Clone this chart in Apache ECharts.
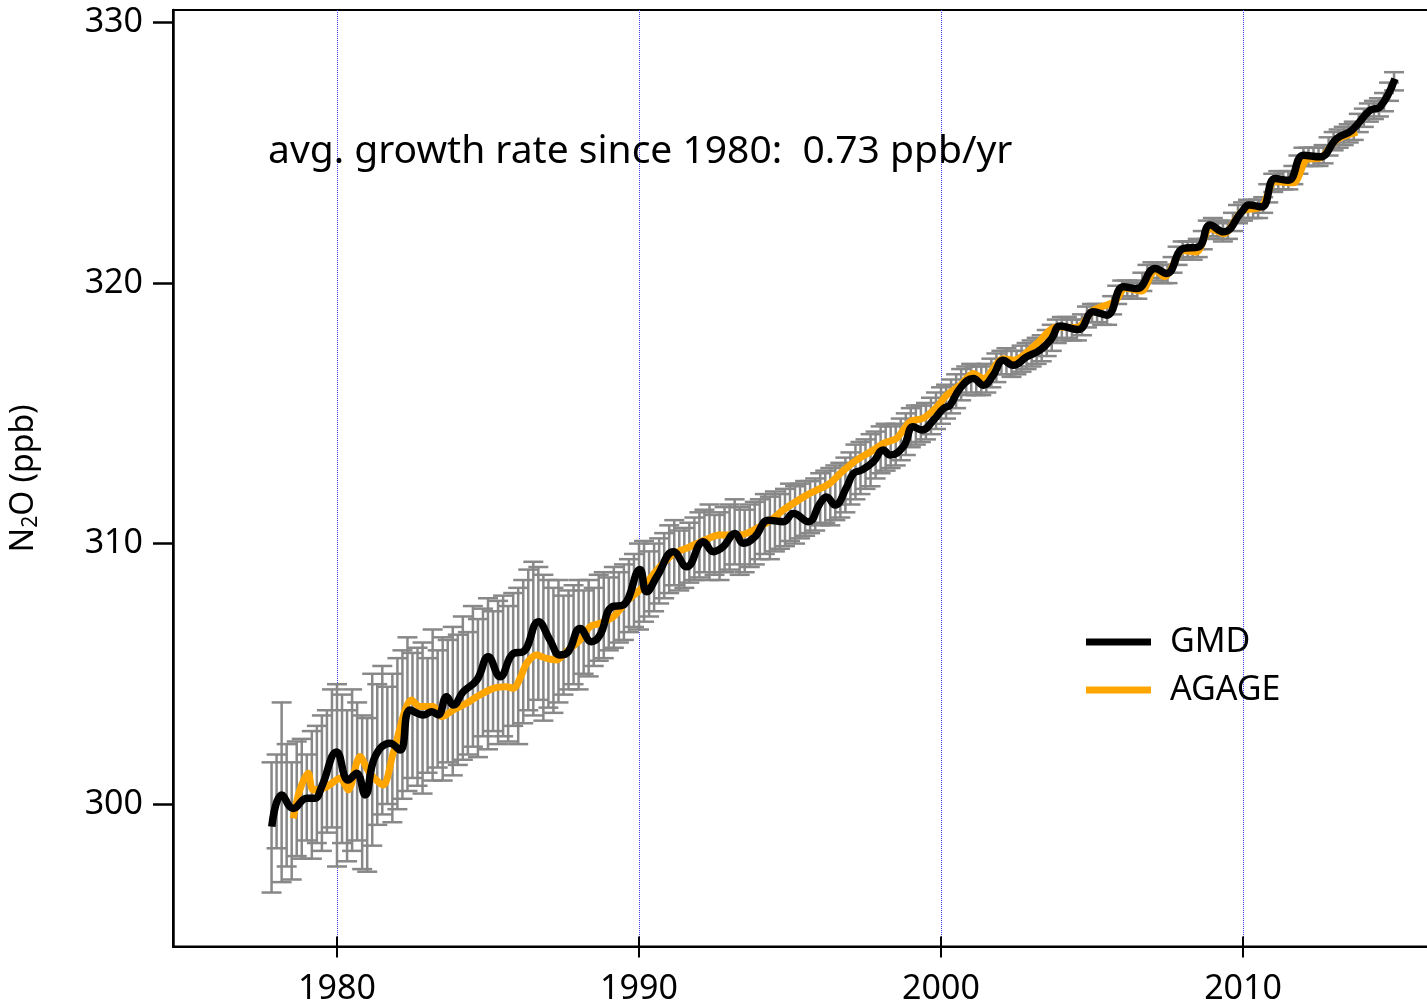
<!DOCTYPE html>
<html>
<head>
<meta charset="utf-8">
<script src="https://cdn.jsdelivr.net/npm/echarts@6/dist/echarts.min.js"></script>
<style>
html,body{margin:0;padding:0;background:#fff;overflow:hidden;}
#chart{width:1427px;height:1005px;}
</style>
</head>
<body>
<div id="chart"></div>
<script>
// ---- data ----
const gmdYears = [1977.84,1978.17,1978.55,1979.00,1979.27,1979.49,1979.99,1980.37,1980.65,1980.93,1981.26,1981.75,1982.09,1982.42,1982.86,1983.14,1983.35,1983.63,1983.85,1984.18,1984.63,1985.01,1985.40,1985.84,1986.17,1986.67,1987.05,1987.38,1987.66,1988.05,1988.43,1988.71,1989.10,1989.48,1990.03,1990.25,1990.60,1991.14,1991.58,1992.13,1992.46,1992.79,1993.18,1993.45,1993.84,1994.28,1994.78,1995.11,1995.61,1995.99,1996.21,1996.49,1996.88,1997.10,1997.37,1997.76,1998.09,1998.31,1998.75,1999.08,1999.36,1999.75,2000.08,2000.30,2000.63,2001.07,2001.40,2001.73,2002.06,2002.39,2002.84,2003.28,2003.65,2003.95,2004.55,2005.04,2005.49,2006.04,2006.48,2007.09,2007.47,2008.02,2008.52,2008.91,2009.35,2009.96,2010.20,2010.62,2011.06,2011.50,2012.00,2012.55,2013.10,2013.60,2014.21,2014.54,2015.03];
const gmdValues = [299.13,300.35,299.83,300.22,300.22,300.66,302.00,300.92,301.18,300.35,301.82,302.33,302.07,303.61,303.42,303.54,303.42,304.12,303.80,304.31,304.76,305.65,304.89,305.78,305.85,307.00,306.30,305.72,305.85,306.74,306.23,306.49,307.57,307.64,309.00,308.15,308.75,309.69,309.11,310.07,309.69,309.88,310.39,310.01,310.26,310.90,310.84,311.15,310.84,311.54,311.79,311.48,312.18,312.69,312.82,313.14,313.59,313.40,313.72,314.49,314.36,314.74,315.19,315.32,315.96,316.34,316.08,316.47,317.04,316.85,317.17,317.43,317.85,318.35,318.22,318.90,318.77,319.86,319.79,320.56,320.37,321.33,321.39,322.23,321.97,322.74,323.00,322.93,324.02,323.95,324.91,324.85,325.55,325.87,326.64,326.77,327.85];

const agageYears = [1978.55,1978.77,1979.05,1979.21,1979.66,1980.10,1980.37,1980.76,1981.09,1981.53,1981.86,1982.47,1982.75,1983.19,1983.47,1983.85,1984.29,1984.63,1985.18,1985.62,1985.84,1986.06,1986.28,1986.61,1986.94,1987.27,1987.60,1988.05,1988.38,1988.71,1989.15,1989.59,1990.14,1990.59,1991.14,1991.69,1992.10,1992.68,1993.34,1994.00,1994.45,1994.78,1995.55,1995.88,1996.32,1996.66,1997.21,1997.76,1998.09,1998.53,1998.97,1999.41,1999.86,2000.19,2000.63,2001.07,2001.40,2002.06,2002.39,2003.17,2003.83,2004.50,2005.04,2005.76,2006.10,2006.64,2007.09,2007.40,2008.02,2008.46,2008.91,2009.35,2009.96,2010.62,2011.06,2011.67,2012.12,2012.55,2013.10,2013.78];
const agageValues = [299.45,300.54,301.18,300.54,300.66,300.99,300.54,301.82,301.18,300.73,301.95,303.99,303.74,303.74,303.35,303.61,303.87,304.12,304.44,304.50,304.44,304.82,305.40,305.72,305.59,305.53,305.85,306.30,306.81,306.94,307.19,307.77,308.34,308.98,309.60,309.88,310.10,310.33,310.33,310.65,310.97,311.29,311.86,312.05,312.31,312.69,313.21,313.59,313.85,314.04,314.68,314.81,315.25,315.70,316.08,316.53,316.34,317.10,317.04,317.68,318.32,318.30,318.95,319.30,319.80,319.70,320.50,320.25,321.25,321.20,322.10,321.90,322.75,322.95,323.90,323.85,324.75,324.80,325.50,325.80];

// error bars, every two months starting late 1977
const errStart = 1977.8333;
const errStep = 1 / 6;
const errLo = [296.6,
 298.3,297.0,297.6,297.1,298.0,297.9,
 298.6,297.9,298.5,298.2,298.9,299.1,
 297.6,298.5,297.8,298.2,298.6,297.5,
 297.4,298.4,299.2,299.6,300.0,299.3,
 299.8,300.2,300.5,301.0,300.7,300.4,
 301.2,300.9,301.4,300.9,301.6,301.1,
 301.5,301.7,301.9,302.2,301.8,302.6,
 302.1,302.8,302.3,302.6,302.4,303.0,
 302.3,303.1,303.6,303.4,304.0,303.2,
 303.7,303.5,303.9,304.2,304.4,304.6,
 304.4,305.0,304.9,305.3,305.5,305.6,
 305.9,306.0,306.2,306.3,306.6,306.8,
 306.7,307.0,307.2,307.4,307.7,307.9,
 308.1,308.4,308.2,308.3,308.5,308.6,
 308.7,308.9,308.6,308.8,308.6,308.9,
 309.0,309.2,308.8,308.9,309.1,309.2,
 309.4,309.6,309.4,309.7,309.8,309.9,
 310.1,310.0,310.2,310.3,310.4,310.5,
 310.7,310.8,310.7,310.9,311.0,311.2,
 311.5,311.7,311.9,312.1,312.2,312.5,
 312.7,312.8,312.9,313.0,313.2,313.4,
 313.7,313.8,313.9,314.0,314.2,314.4,
 314.6,314.8,315.0,315.2,315.5,315.7,
 315.8,315.7,315.7,315.8,316.0,316.2,
 316.5,316.5,316.4,316.5,316.6,316.7,
 316.8,316.9,317.0,317.2,317.4,317.7,
 317.8,317.9,317.8,317.8,318.0,318.3,
 318.5,318.5,318.4,318.4,318.8,319.2,
 319.4,319.5,319.4,319.4,319.7,320.0,
 320.2,320.1,320.0,320.0,320.4,320.7,
 320.9,321.0,320.9,321.0,321.3,321.7,
 321.8,321.7,321.6,321.7,322.0,322.3,
 322.4,322.5,322.5,322.5,322.7,323.1,
 323.5,323.6,323.6,323.6,323.8,324.2,
 324.5,324.5,324.5,324.5,324.6,324.9,
 325.1,325.2,325.3,325.4,325.5,325.8,
 326.0,326.2,326.3,326.4,326.6,327.0,
 327.4];
const errHi = [301.6,
 301.9,303.9,302.3,301.6,302.4,302.5,
 301.9,302.8,303.0,303.4,303.6,304.4,
 304.6,304.2,303.6,304.4,303.9,303.4,
 303.3,305.0,304.6,305.3,304.5,305.0,
 305.6,305.9,306.4,305.8,306.0,306.2,
 305.6,306.7,305.9,306.4,306.3,306.8,
 306.5,307.2,306.6,307.6,307.1,307.5,
 307.9,307.4,307.8,308.0,307.6,308.1,
 308.3,308.6,309.0,309.3,309.1,308.8,
 308.6,308.3,308.6,308.0,308.2,308.4,
 308.6,308.2,308.6,308.3,308.8,308.9,
 308.7,309.1,308.9,309.2,309.4,309.6,
 310.0,310.1,309.7,310.0,310.2,310.4,
 310.7,310.9,310.5,310.6,310.8,311.0,
 311.2,311.3,311.5,311.1,311.2,311.4,
 311.5,311.7,311.4,311.3,311.5,311.6,
 311.7,311.9,311.8,312.0,311.9,312.1,
 312.3,312.2,312.3,312.4,312.4,312.5,
 312.7,312.8,312.9,313.0,313.1,313.3,
 313.5,313.8,313.9,314.0,314.2,314.3,
 314.5,314.6,314.5,314.6,314.8,315.0,
 315.2,315.3,315.3,315.4,315.6,315.8,
 316.0,316.1,316.3,316.5,316.7,316.8,
 316.9,316.8,316.8,316.9,317.1,317.3,
 317.4,317.5,317.4,317.4,317.6,317.7,
 317.8,317.9,318.0,318.2,318.4,318.6,
 318.7,318.7,318.6,318.6,318.8,319.1,
 319.2,319.2,319.1,319.1,319.5,319.9,
 320.1,320.1,320.0,320.1,320.4,320.7,
 320.8,320.8,320.7,320.7,321.0,321.4,
 321.6,321.6,321.6,321.7,322.0,322.4,
 322.5,322.4,322.3,322.4,322.7,323.0,
 323.1,323.2,323.2,323.2,323.3,323.8,
 324.2,324.3,324.3,324.3,324.5,324.9,
 325.2,325.2,325.2,325.2,325.3,325.6,
 325.8,325.9,326.0,326.1,326.2,326.5,
 326.7,326.9,327.0,327.1,327.3,327.7,
 328.1];

const xTicks = [1980, 1990, 2000, 2010];
const yTicks = [300, 310, 320, 330];
const annotationText = 'avg. growth rate since 1980:  0.73 ppb/yr';

// ---- chart ----
const FONT = 'Noto Sans';
const X_MIN = 1974.57, X_MAX = 2016.29;
const Y_MIN = 294.528, Y_MAX = 330.488;

const gmdData = gmdYears.map((t, i) => [t, gmdValues[i]]);
const agageData = agageYears.map((t, i) => [t, agageValues[i]]);
const errData = errLo.map((lo, i) => [errStart + i * errStep, lo, errHi[i]]);

const chart = echarts.init(document.getElementById('chart'), null, {renderer: 'canvas'});

const option = {
  animation: false,
  backgroundColor: '#fff',
  textStyle: {fontFamily: FONT},
  grid: {left: 173, right: -6, top: 10, bottom: 58.5, show: true, borderColor: '#000', borderWidth: 2, backgroundColor: 'transparent', containLabel: false, outerBoundsMode: 'none'},
  legend: {
    data: ['GMD', 'AGAGE'],
    orient: 'vertical',
    left: 1081, top: 619,
    itemWidth: 65, itemHeight: 7,
    itemGap: 12,
    icon: 'rect',
    textStyle: {fontSize: 34, color: '#000', fontFamily: FONT, lineHeight: 36, padding: [0, 0, 0, 14]}
  },
  graphic: [{
    type: 'text', x: 268, y: 152, z: 10,
    style: {text: annotationText, fontSize: 39, fontFamily: FONT, fill: '#000', verticalAlign: 'middle', align: 'left'}
  }],
  xAxis: [{
    type: 'value', min: X_MIN, max: X_MAX,
    axisLine: {show: true, onZero: false, lineStyle: {color: '#000', width: 2}},
    axisTick: {show: true, customValues: xTicks, length: 11, lineStyle: {color: '#000', width: 2}},
    axisLabel: {customValues: xTicks, fontSize: 34, color: '#000', margin: 26, fontFamily: FONT, formatter: v => String(v)},
    splitLine: {show: false}
  }, {
    type: 'value', min: X_MIN, max: X_MAX, position: 'bottom',
    axisLine: {show: false, onZero: false},
    axisTick: {show: true, inside: true, customValues: xTicks, length: 10, lineStyle: {color: '#000', width: 2}},
    axisLabel: {show: false},
    splitLine: {show: false}
  }],
  yAxis: {
    type: 'value', min: Y_MIN, max: Y_MAX,
    axisLine: {show: true, onZero: false, lineStyle: {color: '#000', width: 2.5}},
    axisTick: {show: true, customValues: yTicks, length: 20, lineStyle: {color: '#000', width: 2.5}},
    axisLabel: {customValues: yTicks, fontSize: 34, color: '#000', margin: 30, fontFamily: FONT, formatter: v => String(v)},
    splitLine: {show: false},
    name: 'N{sub|2}O (ppb)',
    nameLocation: 'middle',
    nameRotate: 90,
    nameGap: 131,
    nameTextStyle: {
      fontSize: 32, color: '#000', fontFamily: FONT,
      rich: {sub: {fontSize: 21, color: '#000', fontFamily: FONT, padding: [16, 0, 0, 0]}}
    }
  },
  series: [{
    name: 'decades',
    type: 'custom',
    z: 0,
    silent: true,
    data: xTicks.map(v => [v]),
    encode: {x: 0},
    clip: false,
    renderItem: function (params, api) {
      const cs = params.coordSys;
      const x = Math.round(api.coord([api.value(0), Y_MIN])[0]) + 0.5;
      return {type: 'line',
        shape: {x1: x, y1: cs.y, x2: x, y2: cs.y + cs.height},
        style: {stroke: '#3c3cff', lineWidth: 1, lineDash: [1, 1]}};
    }
  }, {
    name: 'err',
    type: 'custom',
    z: 1,
    silent: true,
    data: errData,
    encode: {x: 0, y: [1, 2]},
    renderItem: function (params, api) {
      const t = api.value(0);
      const pLo = api.coord([t, api.value(1)]);
      const pHi = api.coord([t, api.value(2)]);
      const w = 10;
      const st = {stroke: '#888888', lineWidth: 2.5};
      return {type: 'group', children: [
        {type: 'line', shape: {x1: pLo[0], y1: pLo[1], x2: pHi[0], y2: pHi[1]}, style: st},
        {type: 'line', shape: {x1: pLo[0] - w, y1: pLo[1], x2: pLo[0] + w, y2: pLo[1]}, style: st},
        {type: 'line', shape: {x1: pHi[0] - w, y1: pHi[1], x2: pHi[0] + w, y2: pHi[1]}, style: st}
      ]};
    }
  }, {
    name: 'AGAGE',
    type: 'line',
    z: 2,
    color: '#ffa500',
    data: agageData,
    showSymbol: false,
    smooth: 0.3,
    lineStyle: {color: '#ffa500', width: 7}
  }, {
    name: 'GMD',
    type: 'line',
    z: 3,
    color: '#000',
    data: gmdData,
    showSymbol: false,
    smooth: 0.45,
    lineStyle: {color: '#000', width: 7.5}
  }]
};
chart.setOption(option);
</script>
</body>
</html>
